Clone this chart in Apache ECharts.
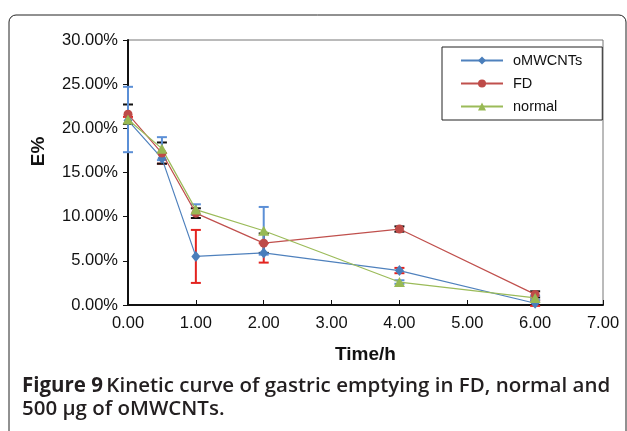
<!DOCTYPE html>
<html><head><meta charset="utf-8">
<script src="https://cdn.jsdelivr.net/npm/echarts@6/dist/echarts.min.js"></script>
<style>html,body{margin:0;padding:0;background:#fff}#c{width:627px;height:431px}</style>
</head><body><div id="c"></div>
<script>
var times = [0, 0.5, 1, 2, 4, 6];
var seriesNames = ['oMWCNTs', 'FD', 'normal'];
var omwcnts = [20.9, 16.6, 5.5, 5.9, 3.9, 0.2];
var fd = [21.6, 17.2, 10.4, 7.0, 8.6, 1.2];
var normal = [21.0, 17.7, 10.8, 8.4, 2.6, 0.8];
var omwcntsErr = [0.4, 0.6, 3.0, 1.1, 0.3, 0.3];
var fdErr = [1.1, 1.2, 0.55, 1.1, 0.3, 0.35];
var normalErr = [3.7, 1.3, 0.6, 2.7, 0.2, 0.25];
var yTicks = [0, 5, 10, 15, 20, 25, 30];
var xTicks = [0, 1, 2, 3, 4, 5, 6, 7];

var lineColors = ['#4f81bd', '#c0504d', '#9bbb59'];
var markerColors = ['#4a7ebb', '#be4b48', '#98b954'];
var errColors = ['#e3231f', '#111111', '#5b8fd6'];
var symbols = ['diamond', 'circle', 'triangle'];
var symbolSizes = [[9, 11], 9, [11, 10]];
var values = [omwcnts, fd, normal];
var errs = [omwcntsErr, fdErr, normalErr];

function pairs(v) { return times.map(function (t, i) { return [t, v[i]]; }); }
function errData(v, e) { return times.map(function (t, i) { return [t, v[i] - e[i], v[i] + e[i]]; }); }

var series = [];
values.forEach(function (v, k) {
  series.push({
    type: 'custom', name: seriesNames[k] + ' err', z: 3, silent: true,
    data: errData(v, errs[k]),
    renderItem: function (params, api) {
      var lo = api.coord([api.value(0), api.value(1)]);
      var hi = api.coord([api.value(0), api.value(2)]);
      var w = 5, st = { stroke: errColors[k], lineWidth: 2 };
      return { type: 'group', children: [
        { type: 'line', shape: { x1: lo[0], y1: lo[1], x2: hi[0], y2: hi[1] }, style: st },
        { type: 'line', shape: { x1: lo[0] - w, y1: lo[1], x2: lo[0] + w, y2: lo[1] }, style: st },
        { type: 'line', shape: { x1: hi[0] - w, y1: hi[1], x2: hi[0] + w, y2: hi[1] }, style: st }
      ]};
    }
  });
});
values.forEach(function (v, k) {
  series.push({
    type: 'line', name: seriesNames[k], z: 5,
    data: pairs(v),
    symbol: symbols[k], symbolSize: symbolSizes[k], showSymbol: true,
    lineStyle: { color: lineColors[k], width: 1.2 },
    itemStyle: { color: markerColors[k] },
    emphasis: { disabled: true }
  });
});

var chart = echarts.init(document.getElementById('c'), null, { renderer: 'canvas' });
chart.setOption({
  animation: false,
  backgroundColor: '#fff',
  grid: { left: 128, right: 24, top: 40, bottom: 126, show: true, borderColor: '#777', borderWidth: 1 },
  legend: {
    data: seriesNames, orient: 'vertical', left: 442, top: 47,
    padding: [6, 20, 6, 18], itemGap: 8, itemWidth: 42, itemHeight: 10,
    borderColor: '#222', borderWidth: 1, backgroundColor: '#fff',
    textStyle: { fontFamily: 'Liberation Sans', fontSize: 14.5, color: '#111', padding: [0, 0, 0, 5] }
  },
  xAxis: {
    type: 'value', min: xTicks[0], max: xTicks[xTicks.length - 1], interval: 1,
    name: 'Time/h', nameLocation: 'middle', nameGap: 40,
    nameTextStyle: { fontFamily: 'Liberation Sans', fontWeight: 'bold', fontSize: 19, color: '#111' },
    axisLine: { lineStyle: { color: '#111', width: 2 } },
    axisTick: { inside: true, length: 5, lineStyle: { color: '#111', width: 1 } },
    axisLabel: { formatter: function (v) { return v.toFixed(2); }, margin: 10,
      fontFamily: 'Liberation Sans', fontSize: 16.5, color: '#111' },
    splitLine: { show: false }
  },
  yAxis: {
    type: 'value', min: yTicks[0], max: yTicks[yTicks.length - 1], interval: 5,
    name: 'E%', nameLocation: 'middle', nameGap: 80, nameRotate: 90,
    nameTextStyle: { fontFamily: 'Liberation Sans', fontWeight: 'bold', fontSize: 19, color: '#111', padding: [0, 0, 0, 42] },
    axisLine: { show: true, lineStyle: { color: '#111', width: 2 } },
    axisTick: { show: true, inside: false, length: 5, lineStyle: { color: '#111', width: 1 } },
    axisLabel: { formatter: function (v) { return v.toFixed(2) + '%'; }, margin: 10,
      fontFamily: 'Liberation Sans', fontSize: 16.5, color: '#111' },
    splitLine: { show: false }
  },
  graphic: [
    { type: 'rect', silent: true, z: -1,
      shape: { x: 9, y: 15, width: 617, height: 500, r: [7, 7, 0, 0] },
      style: { stroke: '#222', lineWidth: 1, fill: 'rgba(0,0,0,0)' } },
    { type: 'text', left: 22, top: 376, silent: true,
      style: { text: '{b|Figure 9} {n|Kinetic curve of gastric emptying in FD, normal and}\n{n|500 μg of oMWCNTs.}',
        rich: {
          b: { fontFamily: 'Open Sans', fontWeight: 'bold', fontSize: 20.5, fill: '#231f20', lineHeight: 23 },
          n: { fontFamily: 'Open Sans', fontWeight: 600, fontSize: 20.5, fill: '#231f20', lineHeight: 23 }
        } } }
  ],
  series: series
});
</script></body></html>
